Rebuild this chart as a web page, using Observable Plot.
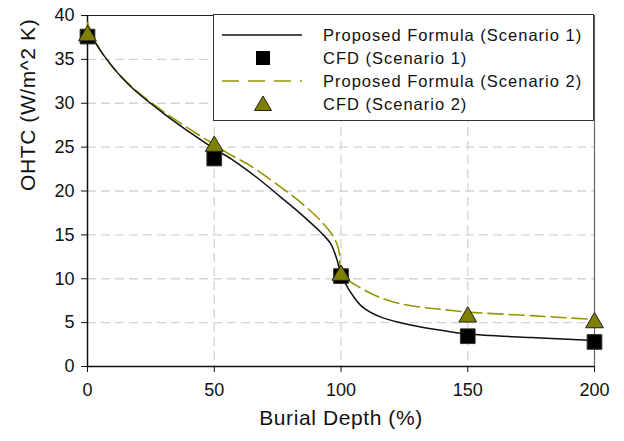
<!DOCTYPE html>
<html>
<head>
<meta charset="utf-8">
<script src="https://cdn.jsdelivr.net/npm/d3@7"></script>
<script src="https://cdn.jsdelivr.net/npm/@observablehq/plot@0.6"></script>
<style>
  body { margin: 0; background: #fff; }
  #chart { position: relative; width: 624px; height: 441px; font-family: "Liberation Sans", Arial, sans-serif; }
  #legend {
    position: absolute; left: 213px; top: 14px; width: 381px; height: 107px;
    background: #fff; border: 1px solid #333; box-sizing: border-box;
  }
  #legend .row { position: absolute; left: 0; height: 22px; width: 100%; }
  #legend .lab { position: absolute; left: 109px; top: 0; line-height: 22px; font-size: 16.5px; letter-spacing: 1px; color: #111; white-space: nowrap; }
  #legend svg { position: absolute; left: 0; top: 0; }
  .title-text { letter-spacing: 0.6px; }
</style>
</head>
<body>
<div id="chart"></div>
<script>
// Burial depth (%) at the sampled points of each formula curve
const depthS1 = [0, 3.3, 9.2, 17, 30.2, 43.3, 50, 56.5, 60.4, 68.3, 76.2, 84.1, 92, 95.9, 98.5, 100, 102, 104.4, 108.4, 116, 128, 140, 150, 175, 200];
const formulaS1 = [38.6, 36.8, 34.4, 31.9, 28.8, 26.1, 24.8, 23.7, 22.9, 21.2, 19.3, 17.4, 15.3, 14.0, 12.1, 10.4, 9.3, 8.2, 6.8, 5.6, 4.7, 4.1, 3.7, 3.3, 2.95];

const depthS2 = [0, 3.3, 9.2, 17, 30.2, 43.3, 50, 56.5, 63, 73.6, 84.1, 92, 97.2, 99.2, 100, 102, 105.7, 112, 120, 131.8, 140, 150, 175, 200];
const formulaS2 = [39.2, 36.9, 34.4, 32.0, 29.0, 26.5, 25.3, 24.1, 23.1, 21.0, 18.7, 16.6, 14.7, 13.2, 10.8, 10.0, 9.3, 8.3, 7.4, 6.75, 6.5, 6.2, 5.8, 5.35];

// CFD results
const cfdDepth = [0, 50, 100, 150, 200];
const cfdS1 = [37.6, 23.7, 10.3, 3.45, 2.8];
const cfdS2 = [37.7, 25.1, 10.4, 5.65, 5.0];

const xTicks = [0, 50, 100, 150, 200];
const yTicks = [0, 5, 10, 15, 20, 25, 30, 35, 40];
const xGrid = [50, 100, 150];
const yGrid = [5, 10, 15, 20, 25, 30, 35];

const legendItems = [
  "Proposed Formula (Scenario 1)",
  "CFD (Scenario 1)",
  "Proposed Formula (Scenario 2)",
  "CFD (Scenario 2)"
];

const lineS1 = depthS1.map((d, i) => ({depth: d, ohtc: formulaS1[i]}));
const lineS2 = depthS2.map((d, i) => ({depth: d, ohtc: formulaS2[i]}));
const pts1 = cfdDepth.map((d, i) => ({depth: d, ohtc: cfdS1[i]}));
const pts2 = cfdDepth.map((d, i) => ({depth: d, ohtc: cfdS2[i]}));

const olive = "#808000";
const oliveLine = "#959500";
const font = "'Liberation Sans', Arial, sans-serif";

const chart = Plot.plot({
  width: 624,
  height: 441,
  marginLeft: 87,
  marginRight: 30,
  marginTop: 15,
  marginBottom: 75,
  style: {fontFamily: font, color: "#111", background: "#fff"},
  x: {domain: [0, 200]},
  y: {domain: [0, 40]},
  marks: [
    // dashed light grid at the inner ticks
    Plot.ruleY(yGrid, {y: d => d, stroke: "#d4d4d4", strokeWidth: 1.3, strokeDasharray: "9 5"}),
    Plot.ruleX(xGrid, {x: d => d, stroke: "#d4d4d4", strokeWidth: 1.3, strokeDasharray: "9 5"}),
    Plot.ruleX([200], {stroke: "#666", strokeWidth: 1.2}),
    Plot.ruleY([40], {stroke: "#222", strokeWidth: 1.2}),
    Plot.ruleX([0], {stroke: "#111", strokeWidth: 1.5}),
    Plot.ruleY([0], {stroke: "#111", strokeWidth: 1.5}),
    Plot.axisY({ticks: yTicks, tickSize: 6, tickPadding: 7, fontSize: 18, label: null, stroke: "#111"}),
    Plot.axisX({ticks: xTicks, tickSize: 6, tickPadding: 11, fontSize: 18, label: null, stroke: "#111"}),
    Plot.line(lineS2, {x: "depth", y: "ohtc", stroke: oliveLine, strokeWidth: 1.6, strokeDasharray: "15,6", curve: "catmull-rom"}),
    Plot.line(lineS1, {x: "depth", y: "ohtc", stroke: "#111", strokeWidth: 1.5, curve: "catmull-rom"}),
    Plot.dot(pts1, {x: "depth", y: "ohtc", symbol: "square", r: 8.3, fill: "#000", stroke: "#333", strokeWidth: 1}),
    Plot.dot(pts2, {x: "depth", y: "ohtc", symbol: "triangle", r: 6.6, fill: olive, stroke: "#222", strokeWidth: 1}),
    Plot.text(["Burial Depth (%)"], {frameAnchor: "bottom", dy: 58, fontSize: 21, fill: "#111", className: "title-text"}),
    Plot.text(["OHTC (W/m^2 K)"], {frameAnchor: "left", dx: -59, rotate: -90, fontSize: 21, fill: "#111", className: "title-text"})
  ]
});

const root = document.getElementById("chart");
root.appendChild(chart);

// Legend box drawn over the top-right of the frame
const legend = document.createElement("div");
legend.id = "legend";
const rowTops = [9, 32, 55, 78];
const swatches = [
  `<line x1="8" x2="88" y1="11" y2="11" stroke="#111" stroke-width="1.5"/>`,
  `<rect x="42" y="4" width="14" height="14" fill="#000"/>`,
  `<line x1="8" x2="88" y1="11" y2="11" stroke="${oliveLine}" stroke-width="1.6" stroke-dasharray="17,9"/>`,
  `<path d="M49,3 L57.5,17.5 L40.5,17.5 Z" fill="${olive}" stroke="#222" stroke-width="1"/>`
];
legendItems.forEach((t, i) => {
  const row = document.createElement("div");
  row.className = "row";
  row.style.top = rowTops[i] + "px";
  row.innerHTML = `<svg width="100" height="22">${swatches[i]}</svg><span class="lab">${t}</span>`;
  legend.appendChild(row);
});
root.appendChild(legend);
</script>
</body>
</html>
